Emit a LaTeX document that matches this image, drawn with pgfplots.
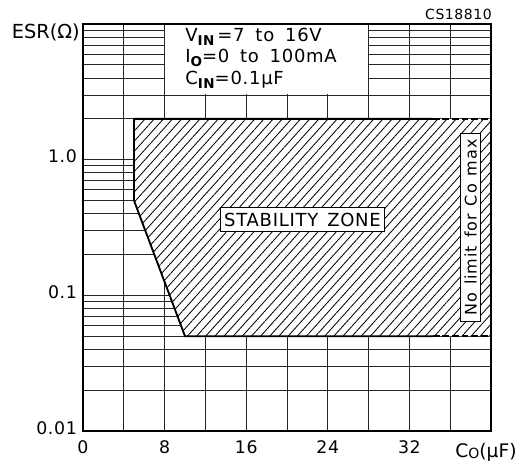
\documentclass[border=0pt]{standalone}
\usepackage{fontspec}
\setmainfont{DejaVu Sans}
\usepackage{graphicx}
\usepackage{pgfplots}
\pgfplotsset{compat=1.18}
\usetikzlibrary{patterns.meta}
\newcommand\sub[1]{\raisebox{-0.22em}{\scalebox{0.75}{\bfseries #1}}}
\newcommand\wide{\addfontfeature{LetterSpace=4}}
\begin{document}
\begin{tikzpicture}
\begin{axis}[name=ax, scale only axis, width=306pt, height=305.25pt,
  clip=false,
  xmin=0, xmax=40, ymin=0.01, ymax=10, ymode=log,
  xtick={0,8,16,24,32}, minor xtick={4,12,20,28,36},
  ytick={0.01,0.1,1}, yticklabels={0.01,0.1,1.0},
  minor ytick={0.02,0.03,0.04,0.05,0.06,0.07,0.08,0.09,0.2,0.3,0.4,0.5,0.6,0.7,0.8,0.9,2,3,4,5,6,7,8,9},
  grid=both,
  major grid style={black!85, line width=0.6pt},
  minor grid style={black!85, line width=0.6pt},
  major tick length=0pt, minor tick length=0pt,
  axis line style={line width=1.1pt},
  tick label style={font=\fontsize{13}{15}\selectfont\wide},
  /pgf/number format/assume math mode=true,
  xticklabel style={yshift=-4pt},
  yticklabel style={yshift=2.25pt, xshift=-1pt},
  no markers,
]
% white background of condition box
\addplot[fill=white, draw=none] coordinates {(8.05,3.03)(27.95,3.03)(27.95,9.85)(8.05,9.85)} -- cycle;
% stability zone
\addplot[fill=white, draw=none] coordinates {(5,2)(40,2)(40,0.05)(10,0.05)(5,0.5)} -- cycle;
\addplot[draw=none, pattern={Lines[angle=48,distance=5.1pt,line width=0.62pt]}] coordinates {(5,2)(40,2)(40,0.05)(10,0.05)(5,0.5)} -- cycle;
\addplot[line width=1.4pt] coordinates {(34.3,2)(5,2)(5,0.5)(10,0.05)(34.3,0.05)};
\addplot[line width=1.4pt, dash pattern=on 5pt off 2.2pt] coordinates {(34.3,2)(40,2)};
\addplot[line width=1.4pt, dash pattern=on 5pt off 2.2pt] coordinates {(34.3,0.05)(40,0.05)};
\addplot[line width=1.4pt] coordinates {(40,2)(40,0.05)};

\node[fill=white, draw, line width=0.6pt, inner xsep=3pt, inner ysep=3.8pt, font=\fontsize{13.5}{15}\selectfont\wide] at (rel axis cs:0.538,0.5197) {STABILITY\hspace{0.5em}ZONE};
\node[fill=white, draw, line width=0.6pt, rotate=90, inner xsep=4.5pt, inner ysep=3pt, font=\fontsize{12}{14}\selectfont\addfontfeature{LetterSpace=6}] at (rel axis cs:0.950,0.5) {No\hspace{0.5em}limit\hspace{0.5em}for\hspace{0.5em}Co\hspace{0.5em}max};

\node[anchor=base west, inner sep=0, font=\fontsize{13.5}{15}\selectfont\wide] at (rel axis cs:0.25,0.9565) {V\sub{IN}\,=7\hspace{0.6em}to\hspace{0.6em}16V};
\node[anchor=base west, inner sep=0, font=\fontsize{13.5}{15}\selectfont\wide] at (rel axis cs:0.25,0.9049) {I\sub{O}=0\hspace{0.6em}to\hspace{0.6em}100mA};
\node[anchor=base west, inner sep=0, font=\fontsize{13.5}{15}\selectfont\wide] at (rel axis cs:0.25,0.8518) {C\sub{IN}=0.1μF};

\node[anchor=base east, inner sep=0, font=\fontsize{14.5}{16}\selectfont] at ([xshift=-2.25pt]rel axis cs:0,0.965) {ESR(Ω)};
\node[anchor=base east, inner sep=0, font=\fontsize{10.5}{12}\selectfont\wide] at ([xshift=0.75pt,yshift=3.75pt]rel axis cs:1,1) {CS18810};
\node[anchor=base west, inner sep=0, font=\fontsize{14}{15}\selectfont] at ([yshift=-19.5pt]rel axis cs:0.912,0) {C\raisebox{-0.1em}{\scalebox{0.75}{O}}(μF)};
\end{axis}
\pgfresetboundingbox
\path ([xshift=-62.25pt,yshift=-24pt]ax.south west) rectangle ([xshift=30pt,yshift=18pt]ax.north east);
\end{tikzpicture}
\end{document}
